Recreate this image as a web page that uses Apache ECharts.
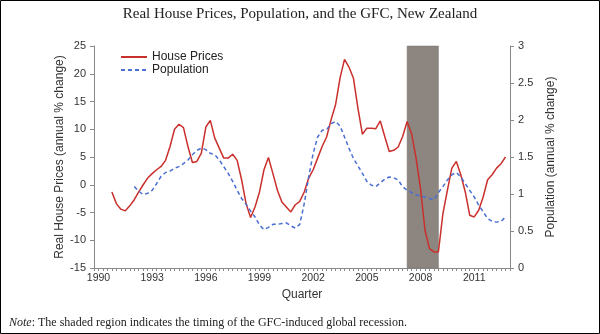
<!DOCTYPE html>
<html><head><meta charset="utf-8">
<script src="https://cdn.jsdelivr.net/npm/echarts@6/dist/echarts.min.js"></script>
<style>html,body{margin:0;padding:0;background:#fff}#c{width:600px;height:334px}</style>
</head><body><div id="c"></div>
<script>
// Quarterly categories from 1989Q4 to 2013Q1 (1989Q4 is an empty leading slot)
const categories = ['1989Q4'];
for (let y = 1990; y <= 2013; y++) for (let q = 1; q <= 4; q++) { if (y === 2013 && q > 1) break; categories.push(y + 'Q' + q); }

// Real house prices, annual % change (index aligned with categories)
const housePrices = [null, null, null, null,
  -1.3, -3.4, -4.4, -4.7, -3.8, -2.7, -1.3, 0.0, 1.2, 2.0, 2.7, 3.3, 4.4, 6.9, 10.0, 10.9,
  10.3, 6.9, 4.0, 4.2, 5.7, 10.4, 11.6, 8.4, 6.6, 4.8, 4.8, 5.5, 4.4, 0.9, -3.4, -5.9,
  -4.0, -1.3, 2.7, 4.9, 2.0, -1.0, -3.1, -4.0, -4.9, -3.6, -3.0, -1.3, 1.2, 2.7, 4.8, 6.9,
  8.6, 11.7, 14.4, 19.2, 22.6, 21.2, 19.2, 13.8, 9.1, 10.2, 10.2, 10.1, 11.5, 8.7, 6.0, 6.2,
  6.8, 8.7, 11.4, 9.2, 4.8, -0.7, -8.2, -11.5, -12.1, -12.1, -5.2, -1.0, 3.0, 4.2, 1.8, -1.3,
  -5.5, -5.8, -4.6, -2.2, 0.9, 1.8, 3.0, 3.8, 5.0, null];

// Population, annual % change
const population = [null, null, null, null, null, null, null, null, null,
  1.10, 1.04, 0.99, 1.01, 1.05, 1.14, 1.24, 1.29, 1.31, 1.35, 1.37, 1.41, 1.46, 1.53, 1.59,
  1.62, 1.60, 1.55, 1.53, 1.46, 1.37, 1.28, 1.17, 1.05, 0.94, 0.86, 0.77, 0.69, 0.58, 0.52,
  0.55, 0.59, 0.59, 0.60, 0.61, 0.57, 0.54, 0.59, 0.87, 1.23, 1.55, 1.77, 1.86, 1.87, 1.95,
  1.98, 1.92, 1.77, 1.62, 1.48, 1.38, 1.28, 1.17, 1.12, 1.10, 1.15, 1.20, 1.23, 1.22, 1.19,
  1.10, 1.05, 1.02, 0.99, 0.97, 0.96, 0.94, 0.92, 1.02, 1.10, 1.19, 1.26, 1.29, 1.23, 1.14,
  1.05, 0.96, 0.85, 0.76, 0.67, 0.63, 0.62, 0.63, 0.69, null];

const recession = ['2007Q2', '2009Q1'];
const leftTicks = { min: -15, max: 25, interval: 5 };
const rightTicks = { min: 0, max: 3, interval: 0.5 };

const sans = 'Liberation Sans, Arial, sans-serif';
const serif = 'Liberation Serif, Times New Roman, serif';
const axisCol = '#8a8a8a';
const labCol = '#333';

const chart = echarts.init(document.getElementById('c'), null, { renderer: 'canvas' });
chart.setOption({
  animation: false,
  title: { text: 'Real House Prices, Population, and the GFC, New Zealand', left: 'center', top: 2,
    textStyle: { fontFamily: serif, fontSize: 15, fontWeight: 'normal', color: '#222' } },
  legend: { orient: 'vertical', left: 115, top: 46, itemWidth: 26, itemHeight: 10, itemGap: 1,
    itemStyle: { opacity: 0 },
    textStyle: { fontFamily: sans, fontSize: 12, color: '#222', lineHeight: 11 },
    data: ['House Prices', 'Population'] },
  grid: { left: 94, right: 90, top: 46, bottom: 66, containLabel: false },
  xAxis: {
    type: 'category', data: categories, boundaryGap: false,
    name: 'Quarter', nameLocation: 'middle', nameGap: 20,
    nameTextStyle: { fontFamily: sans, fontSize: 12, color: labCol },
    axisLine: { onZero: false, lineStyle: { color: axisCol, width: 1 } },
    axisTick: { interval: 0, length: 3, lineStyle: { color: axisCol } },
    axisLabel: { fontFamily: sans, fontSize: 10.5, color: labCol, margin: 5,
      interval: function (i, v) { return /Q1$/.test(v) && (parseInt(v) - 1990) % 3 === 0 && parseInt(v) >= 1990; },
      formatter: function (v) { return v.slice(0, 4); } },
    splitLine: { show: false }
  },
  yAxis: [{
    type: 'value', min: leftTicks.min, max: leftTicks.max, interval: leftTicks.interval,
    name: 'Real House Prices (annual % change)', nameLocation: 'middle', nameGap: 28, nameRotate: 90,
    nameMoveOverlap: false,
    nameTextStyle: { fontFamily: sans, fontSize: 12, color: labCol },
    axisLine: { show: true, lineStyle: { color: axisCol } },
    axisTick: { show: true, length: 4, lineStyle: { color: axisCol } },
    axisLabel: { fontFamily: sans, fontSize: 11, color: labCol, margin: 8 },
    splitLine: { show: false }
  }, {
    type: 'value', position: 'right', min: rightTicks.min, max: rightTicks.max, interval: rightTicks.interval,
    name: 'Population (annual % change)', nameLocation: 'middle', nameGap: 27, nameRotate: 90,
    nameTextStyle: { fontFamily: sans, fontSize: 12, color: labCol },
    axisLine: { show: true, lineStyle: { color: axisCol } },
    axisTick: { show: true, length: 4, lineStyle: { color: axisCol } },
    axisLabel: { fontFamily: sans, fontSize: 11, color: labCol, margin: 8 },
    splitLine: { show: false }
  }],
  series: [{
    name: 'House Prices', type: 'line', yAxisIndex: 0, data: housePrices, symbol: 'none',
    lineStyle: { color: '#c9302c', width: 1.5 }, itemStyle: { color: '#c9302c' }, z: 3,
    markArea: { silent: true, itemStyle: { color: '#8c8580', borderColor: '#7a7470', borderWidth: 0.5 },
      data: [[{ xAxis: recession[0] }, { xAxis: recession[1] }]] }
  }, {
    name: 'Population', type: 'line', yAxisIndex: 1, data: population, symbol: 'none',
    lineStyle: { color: '#4a6fd2', width: 1.5, type: [4, 3] }, itemStyle: { color: '#4a6fd2' }, z: 3
  }],
  graphic: [
    { type: 'rect', shape: { x: 0.5, y: 0.5, width: 599, height: 333 }, style: { fill: null, stroke: '#000', lineWidth: 1 }, silent: true },
    { type: 'text', left: 9, top: 317, style: { text: '{i|Note}: The shaded region indicates the timing of the GFC-induced global recession.',
      fontFamily: serif, fontSize: 12, fill: '#222',
      rich: { i: { fontFamily: serif, fontSize: 12, fontStyle: 'italic', fill: '#222' } } } }
  ]
});
</script></body></html>
